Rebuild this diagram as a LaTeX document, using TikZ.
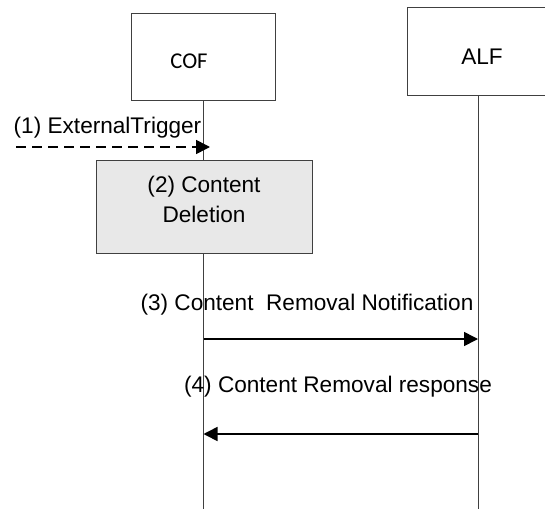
\documentclass[tikz,border=0pt]{standalone}
\usepackage{fontspec}
\setmainfont{Liberation Sans}
\newfontfamily\coffont{Carlito}
\usetikzlibrary{arrows.meta}

\begin{document}
\begin{tikzpicture}[x=1pt,y=-1pt,>={Triangle[length=14pt,width=14pt]},
                    font=\fontsize{22.6}{30}\selectfont,
                    lifebox/.style={draw=black!75,line width=0.9pt,fill=white,inner sep=0pt},
                    lifeline/.style={draw=black!75,line width=0.9pt},
                    msg/.style={->,line width=1.6pt}]
  \useasboundingbox (0,0) rectangle (545,508);
  \coordinate (bottom) at (0,510);
  % the two entities
  \node[lifebox,minimum width=144pt,minimum height=87pt] (cof) at (203.5,56.5) {};
  \node[font=\coffont\fontsize{22.6}{30}\selectfont] (coflabel) at (189,61) {COF};
  \node[lifebox,minimum width=142pt,minimum height=88pt] (alf) at (478,51) {};
  \node (alflabel) at (482,57) {ALF};
  \draw[lifeline] (cof.south) -- (cof.south |- bottom);
  \draw[lifeline] (alf.south) -- (alf.south |- bottom);
  % local step
  \node[lifebox,fill=black!9,minimum width=216pt,minimum height=93pt,align=center,
        text depth=15pt] (del) at (204,206.5) {(2) Content\\Deletion};
  % messages
  \coordinate (trig) at (16,147);
  \coordinate (trigend) at (210,147);
  \path (cof.south |- 0,339) coordinate (cof3) (alf.south |- 0,339) coordinate (alf3);
  \path (cof.south |- 0,434) coordinate (cof4) (alf.south |- 0,434) coordinate (alf4);
  \draw[msg,dash pattern=on 10pt off 6pt] (trig) -- (trigend);
  \draw[msg] (cof3) -- (alf3);
  \draw[msg] (alf4) -- (cof4);
  \node (m1) at (107.5,128) {(1) ExternalTrigger};
  \node (m3) at (307,305) {(3) Content\ \ Removal Notification};
  \node (m4) at (338,387) {(4) Content Removal response};
\end{tikzpicture}
\end{document}
